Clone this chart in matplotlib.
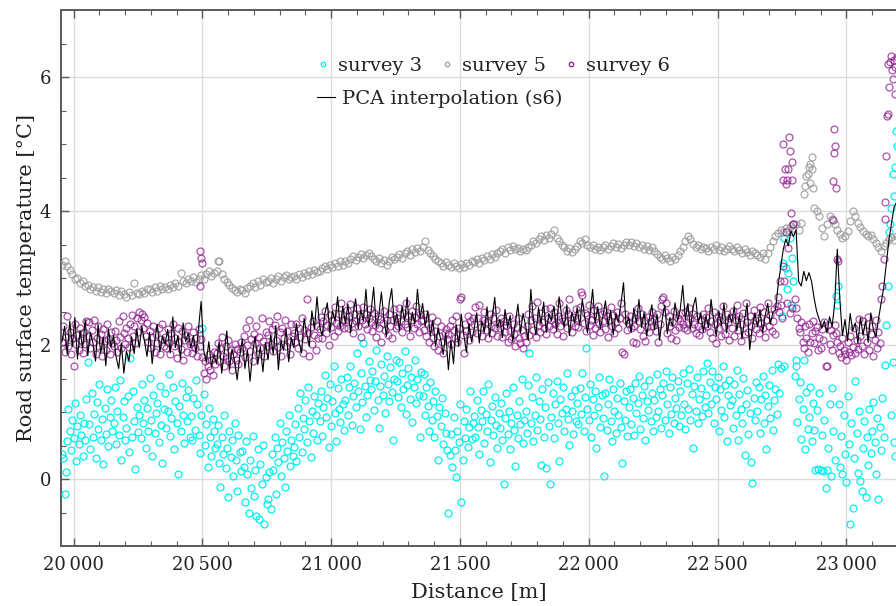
import numpy as np
import matplotlib
matplotlib.use("Agg")
import matplotlib.pyplot as plt
from matplotlib.ticker import MultipleLocator, FuncFormatter
from matplotlib.lines import Line2D

# ---------------- data (temperatures in hundredths of a degree C) ----------------
# survey 3: one reading every 5 m starting at 19955 m
S3_START, S3_STEP = 19955, 5
survey3_c = [
    38, 31, -22, 11, 56, 104, 72, 43, 88, 61, 113, 27, 79, 52, 95, 66, 35, 84, 58, 120,
    174, 82, 45, 128, 63, 97, 31, 115, 74, 142, 58, 89, 22, 106, 67, 135, 49, 93, 118, 71,
    84, 137, 52, 101, 66, 148, 29, 92, 117, 58, 76, 124, 41, 181, 63, 132, 87, 15, 108, 70,
    95, 61, 142, 83, 118, 47, 106, 72, 151, 88, 34, 126, 69, 98, 113, 55, 139, 81, 24, 104,
    128, 76, 102, 156, 64, 91, 138, 45, 117, 83, 8, 109, 71, 144, 96, 53, 122, 87, 133, 62,
    94, 58, 121, 73, 148, 112, 66, 39, 95, 226, 127, 51, 82, 18, 106, 63, 35, 89, 71, 47,
    52, 81, 24, -12, 63, 38, 95, 17, 46, -27, 71, 33, 58, 5, 84, 29, -18, 66, 41, 12,
    42, 18, -35, 57, 8, -50, 29, -13, 64, -25, 14, -55, 45, -60, 22, -8, 51, -67, 3, -38,
    -30, 11, -45, 38, 14, 62, -22, 47, 25, 83, 4, 55, 31, -12, 71, 42, 96, 19, 58, 35,
    48, 82, 27, 106, 63, 129, 41, 91, 74, 118, 55, 137, 86, 33, 102, 69, 124, 95, 58, 113,
    87, 132, 64, 108, 155, 93, 121, 48, 142, 79, 116, 168, 98, 57, 136, 104, 85, 149, 112, 73,
    118, 152, 96, 137, 169, 81, 124, 143, 107, 188, 131, 74, 158, 115, 203, 139, 92, 126, 176, 148,
    134, 161, 103, 147, 192, 118, 76, 139, 171, 125, 154, 98, 183, 142, 116, 167, 130, 58, 149, 177,
    146, 122, 175, 108, 158, 134, 191, 97, 141, 166, 119, 152, 85, 137, 178, 113, 149, 126, 62, 159,
    124, 157, 96, 138, 109, 71, 145, 88, 116, 63, 132, 94, 28, 107, 79, 121, 52, 98, 68, 43,
    -50, 36, 67, 18, 92, 44, 3, 71, 55, 112, -35, 29, 86, 61, 104, 48, 77, 132, 59, 83,
    94, 62, 118, 77, 38, 103, 86, 131, 54, 97, 71, 142, 25, 88, 109, 66, 122, 81, 47, 99,
    76, 113, 58, -8, 91, 128, 67, 102, 45, 84, 138, 73, 19, 96, 61, 117, 82, 149, 54, 88,
    102, 68, 141, 188, 84, 123, 57, 96, 152, 73, 117, 89, 21, 134, 62, 108, 17, 145, 79, -7,
    93, 128, 61, 112, 146, 84, 27, 119, 98, 137, 72, 105, 158, 89, 51, 124, 101, 67, 133, 86,
    114, 82, 136, 97, 158, 71, 123, 196, 104, 88, 142, 63, 119, 95, 131, 47, 108, 152, 77, 126,
    91, 5, 128, 73, 112, 149, 86, 57, 134, 102, 69, 121, 95, 143, 78, 24, 116, 88, 131, 64,
    107, 135, 82, 121, 66, 144, 98, 113, 154, 75, 126, 91, 139, 58, 117, 103, 148, 86, 129, 72,
    118, 92, 157, 101, 134, 76, 125, 143, 88, 161, 112, 69, 138, 97, 152, 84, 121, 106, 146, 79,
    131, 96, 158, 112, 74, 143, 105, 164, 88, 127, 47, 139, 101, 152, 83, 119, 136, 94, 161, 108,
    126, 173, 98, 145, 112, 161, 84, 137, 119, 152, 71, 134, 103, 168, 92, 141, 57, 125, 148, 110,
    118, 76, 142, 95, 163, 58, 127, 104, 84, 151, 36, 112, 133, 67, 98, 25, -6, 121, 88, 145,
    102, 137, 68, 119, 154, 83, 126, 45, 109, 141, 91, 162, 73, 118, 134, 97, 171, 128, 165, 243,
    323, 168, 315, 283, 307, 360, 260, 330, 295, 153, 168, 85, 120, 145, 60, 105, 178, 45, 130, 75,
    92, 138, 57, 114, 73, 14, 103, 15, 128, 13, 66, 12, 88, -13, 14, 47, 112, 5, 136, 71,
    28, 273, 260, 112, 18, 64, 7, 95, 38, -5, 124, 52, -67, 83, -44, 31, 146, 69, 9, 102,
    -3, -18, 47, 86, -27, 63, 21, 104, 39, 72, 115, 55, 8, 91, -30, 78, 44, 121, 62, 170,
    230, 288, 368, 380, 405, 455, 422, 465, 497,
]
survey3_extra_x = [22967, 23175, 23185, 23190, 23180, 23193, 22805, 22760]
survey3_extra_c = [288, 95, 55, 35, 175, 520, 178, 360]

# survey 5: one reading every 10 m starting at 19955 m
S5_START, S5_STEP = 19955, 10
survey5_c = [
    320, 326, 318, 312, 306, 298, 300, 292, 295, 288,
    290, 284, 287, 281, 286, 279, 283, 277, 284, 280,
    278, 282, 274, 280, 276, 271, 279, 275, 293, 277,
    276, 281, 278, 284, 283, 279, 286, 281, 288, 284,
    287, 283, 290, 286, 293, 288, 307, 295, 292, 298,
    296, 301, 294, 299, 304, 298, 306, 311, 303, 308,
    310, 325, 306, 298, 294, 289, 285, 282, 279, 284,
    282, 278, 285, 288, 292, 286, 295, 290, 298, 294,
    296, 300, 293, 298, 303, 296, 301, 305, 298, 302,
    303, 299, 306, 301, 308, 304, 310, 306, 312, 309,
    311, 315, 318, 313, 320, 316, 322, 318, 325, 320,
    326, 322, 329, 333, 327, 331, 336, 330, 334, 338,
    333, 329, 325, 330, 322, 327, 320, 326, 331, 328,
    332, 336, 330, 338, 341, 335, 343, 339, 345, 341,
    346, 355, 342, 338, 333, 329, 326, 322, 318, 324,
    320, 316, 322, 318, 315, 321, 317, 323, 319, 325,
    324, 328, 322, 330, 327, 333, 329, 336, 332, 338,
    340, 344, 338, 346, 342, 348, 343, 345, 340, 344,
    342, 346, 350, 355, 352, 358, 362, 357, 364, 360,
    366, 372, 360, 355, 350, 346, 341, 345, 339, 343,
    348, 355, 352, 358, 350, 346, 349, 344, 347, 342,
    346, 350, 344, 348, 352, 347, 351, 345, 349, 353,
    350, 354, 348, 352, 346, 350, 344, 348, 342, 346,
    340, 336, 332, 328, 334, 330, 326, 332, 328, 335,
    340, 347, 355, 362, 358, 351, 346, 349, 344, 347,
    345, 341, 347, 343, 349, 342, 346, 340, 344, 348,
    344, 340, 346, 342, 338, 343, 339, 335, 341, 337,
    335, 331, 337, 329, 338, 346, 355, 362, 367, 371,
    368, 375, 372, 378, 374, 380, 372, 382, 425, 452,
    466, 480, 405, 400, 392, 375, 363, 380, 393, 388,
    380, 372, 365, 360, 362, 370, 385, 400, 392, 382,
    376, 370, 366, 362, 364, 358, 352, 347, 341, 348,
    352, 358, 361, 357, 363,
]
survey5_extra_x = [22840, 22850, 22860, 22868, 22872, 22858, 20561]
survey5_extra_c = [438, 455, 470, 462, 434, 442, 325]

# survey 6: one reading every 5 m starting at 19955 m
S6_START, S6_STEP = 19955, 5
survey6_c = [
    205, 228, 190, 212, 243, 198, 220, 186, 210, 168, 232, 201, 215, 193, 226, 208, 188, 219, 202, 236,
    214, 235, 196, 222, 205, 238, 187, 211, 229, 199, 217, 183, 224, 206, 193, 231, 209, 186, 220, 203,
    198, 221, 207, 190, 236, 212, 195, 243, 218, 202, 225, 210, 197, 232, 245, 214, 228, 203, 240, 219,
    250, 238, 247, 226, 242, 214, 233, 205, 221, 196, 212, 229, 190, 217, 203, 225, 186, 209, 231, 198,
    212, 195, 224, 203, 187, 218, 232, 199, 210, 181, 226, 205, 194, 221, 178, 208, 215, 190, 228, 202,
    205, 188, 219, 196, 211, 183, 224, 198, 209, 182, 158, 176, 150, 169, 186, 162, 178, 155, 190, 171,
    188, 203, 176, 195, 212, 184, 169, 198, 181, 207, 176, 192, 163, 186, 201, 178, 194, 171, 189, 205,
    196, 214, 182, 225, 200, 238, 191, 209, 176, 217, 203, 229, 187, 212, 195, 241, 206, 184, 220, 198,
    215, 236, 202, 224, 191, 230, 208, 244, 197, 219, 183, 226, 210, 238, 199, 221, 205, 187, 232, 214,
    218, 204, 231, 196, 226, 212, 240, 188, 223, 209, 268, 218, 183, 227, 201, 236, 215, 192, 229, 210,
    224, 242, 210, 236, 251, 218, 230, 200, 245, 227, 238, 214, 256, 233, 221, 247, 229, 262, 238, 225,
    238, 252, 226, 244, 261, 233, 218, 247, 236, 255, 229, 243, 212, 238, 257, 231, 246, 224, 240, 253,
    235, 221, 248, 230, 212, 244, 226, 239, 205, 233, 251, 222, 238, 215, 246, 229, 210, 237, 254, 226,
    240, 228, 255, 236, 219, 248, 232, 262, 227, 244, 214, 238, 251, 225, 242, 258, 231, 219, 246, 236,
    238, 223, 247, 214, 231, 205, 226, 242, 210, 198, 221, 236, 193, 214, 229, 205, 188, 218, 224, 209,
    216, 229, 201, 238, 222, 210, 243, 205, 226, 268, 272, 215, 188, 232, 221, 244, 208, 236, 219, 241,
    232, 256, 218, 241, 259, 227, 213, 238, 249, 222, 235, 211, 247, 229, 218, 240, 226, 252, 214, 233,
    225, 241, 212, 236, 219, 230, 205, 244, 221, 209, 232, 216, 198, 227, 240, 211, 203, 222, 196, 214,
    204, 228, 246, 215, 237, 258, 223, 241, 212, 264, 230, 219, 248, 235, 226, 253, 217, 240, 229, 255,
    238, 224, 250, 231, 216, 244, 262, 228, 241, 213, 236, 252, 225, 247, 268, 233, 219, 242, 229, 254,
    240, 227, 256, 279, 274, 233, 248, 221, 245, 260, 230, 238, 215, 252, 226, 243, 258, 232, 219, 246,
    236, 251, 224, 243, 212, 238, 257, 229, 245, 218, 234, 249, 226, 241, 263, 190, 186, 246, 237, 222,
    233, 244, 226, 205, 229, 241, 203, 255, 236, 224, 247, 213, 238, 206, 227, 242, 219, 236, 250, 228,
    239, 221, 246, 205, 232, 258, 268, 272, 249, 263, 218, 243, 229, 210, 235, 251, 222, 208, 240, 227,
    236, 248, 231, 226, 249, 223, 234, 255, 241, 226, 247, 232, 218, 244, 229, 215, 238, 224, 246, 231,
    242, 228, 255, 219, 236, 210, 249, 231, 203, 244, 225, 238, 213, 258, 229, 216, 247, 234, 207, 240,
    226, 251, 214, 237, 259, 222, 243, 206, 231, 248, 217, 262, 235, 219, 244, 228, 211, 252, 237, 224,
    241, 218, 256, 233, 226, 249, 212, 238, 262, 229, 245, 221, 236, 254, 217, 258, 272, 250, 260, 240,
    318, 295, 368, 262, 345, 248, 397, 255, 380, 268, 255, 240, 225, 220, 235, 205, 195, 228, 210, 190,
    232, 205, 218, 236, 203, 221, 227, 192, 210, 196, 224, 208, 235, 169, 168, 230, 201, 222, 192, 215,
    230, 218, 205, 188, 199, 182, 210, 193, 186, 178, 204, 190, 213, 185, 197, 226, 188, 207, 194, 239,
    214, 198, 236, 187, 221, 205, 242, 193, 216, 229, 184, 207, 238, 195, 219, 203, 268, 288, 328, 388,
    482, 545, 585, 622, 632, 597, 625, 574, 630,
]
survey6_extra_x = [20490, 20494, 20497, 20492,
                   22755, 22778, 22781, 22788, 22762, 22775, 22755, 22768, 22788, 22765, 22743, 22794,
                   22953, 22956, 22952, 22950, 22959, 22950, 22963, 22967,
                   23150, 23158, 23163, 23178, 23188]
survey6_extra_c = [340, 330, 323, 288,
                   500, 510, 490, 473, 462, 462, 447, 447, 447, 440, 295, 380,
                   522, 497, 487, 445, 435, 387, 328, 325,
                   413, 542, 620, 610, 615]

# PCA interpolation of survey 6: every 10 m starting at 19955 m
PCA_START, PCA_STEP = 19955, 10
pca_c = [
    205, 228, 186, 236, 198, 241, 179, 222, 195, 238,
    184, 219, 203, 176, 231, 188, 212, 169, 224, 197,
    214, 182, 165, 203, 158, 191, 176, 212, 187, 224,
    196, 228, 205, 183, 219, 172, 207, 231, 190, 213,
    201, 223, 188, 242, 196, 214, 179, 233, 205, 218,
    196, 214, 188, 225, 265, 192, 174, 205, 168, 186,
    172, 205, 158, 189, 221, 163, 194, 176, 148, 183,
    209, 165, 192, 146, 188, 213, 171, 198, 160, 204,
    178, 215, 186, 229, 163, 207, 192, 224, 175, 211,
    196, 232, 205, 188, 240, 216, 198, 251, 224, 272,
    228, 214, 246, 263, 219, 251, 236, 272, 225, 258,
    232, 261, 218, 247, 269, 224, 252, 236, 283, 229,
    251, 286, 226, 244, 279, 238, 213, 262, 284, 231,
    247, 222, 258, 236, 271, 219, 249, 232, 283, 240,
    262, 228, 251, 214, 237, 198, 225, 209, 186, 218,
    163, 207, 172, 231, 198, 246, 215, 189, 232, 205,
    224, 248, 203, 236, 219, 257, 212, 241, 271, 226,
    238, 211, 253, 226, 244, 205, 232, 261, 218, 247,
    229, 207, 283, 238, 215, 256, 231, 264, 219, 247,
    236, 258, 221, 272, 243, 227, 260, 214, 249, 233,
    255, 229, 268, 241, 218, 246, 283, 232, 257, 224,
    243, 266, 228, 252, 215, 247, 234, 262, 293, 228,
    241, 219, 255, 232, 268, 226, 249, 214, 238, 260,
    223, 246, 207, 238, 259, 217, 241, 228, 263, 236,
    252, 289, 238, 262, 224, 256, 271, 233, 248, 219,
    244, 226, 268, 237, 213, 251, 229, 262, 218, 246,
    234, 257, 221, 245, 209, 238, 262, 193, 226, 248,
    227, 253, 218, 244, 262, 231, 249, 252, 288, 315,
    342, 358, 348, 370, 362, 372, 295, 288, 310, 296,
    308, 295, 270, 250, 238, 225, 236, 218, 242, 228,
    262, 343, 268, 214, 238, 206, 247, 221, 233, 202,
    241, 215, 236, 204, 248, 223, 212, 239, 262, 285,
    320, 355, 380, 405, 413,
]

series_labels = ["survey 3", "survey 5", "survey 6", "PCA interpolation (s6)"]
x_label = "Distance [m]"
y_label = "Road surface temperature [°C]"

# ---------------- build arrays ----------------
def regular(start, step, vals):
    v = np.asarray(vals, dtype=float) / 100.0
    return start + step * np.arange(len(v)), v

x3, y3 = regular(S3_START, S3_STEP, survey3_c)
x5, y5 = regular(S5_START, S5_STEP, survey5_c)
x6, y6 = regular(S6_START, S6_STEP, survey6_c)
xp, yp = regular(PCA_START, PCA_STEP, pca_c)
x3 = np.concatenate([x3, survey3_extra_x]); y3 = np.concatenate([y3, np.array(survey3_extra_c) / 100.0])
x5 = np.concatenate([x5, survey5_extra_x]); y5 = np.concatenate([y5, np.array(survey5_extra_c) / 100.0])
x6 = np.concatenate([x6, survey6_extra_x]); y6 = np.concatenate([y6, np.array(survey6_extra_c) / 100.0])

# ---------------- style ----------------
plt.rcParams['font.family'] = ['DejaVu Serif']
C3 = '#00f0f0'
C5 = '#a0a0a0'
C6 = '#8e1a8e'
CP = '#000000'
TXT = '#222222'
SPINE = '#5a5a5a'

fig = plt.figure(figsize=(8.96, 6.06), dpi=100)
ax = fig.add_axes([61 / 896, 60 / 606, 835 / 896, 536 / 606])

mk = dict(marker='o', ls='none', mfc='none', ms=5.0, mew=0.9)
ax.plot(x3, y3, mec=C3, zorder=3, **mk)
ax.plot(x5, y5, mec=C5, alpha=0.9, zorder=3, **mk)
ax.plot(x6, y6, mec=C6, alpha=0.75, zorder=4, **mk)
ax.plot(xp, yp, color=CP, lw=0.8, zorder=5)

ax.set_xlim(19951, 23193)
ax.set_ylim(-1, 7)
ax.xaxis.set_major_locator(MultipleLocator(500))
ax.xaxis.set_minor_locator(MultipleLocator(100))
ax.yaxis.set_major_locator(MultipleLocator(2))
ax.yaxis.set_minor_locator(MultipleLocator(0.5))
ax.xaxis.set_major_formatter(FuncFormatter(lambda v, p: f"{int(round(v)):,}".replace(",", "\u2009")))
ax.yaxis.set_major_formatter(FuncFormatter(lambda v, p: f"{v:g}"))

ax.grid(True, which='major', color='#dcdcdc', lw=1.0)
ax.set_axisbelow(True)

for side in ['left', 'bottom', 'top']:
    ax.spines[side].set_color(SPINE)
    ax.spines[side].set_linewidth(1.4)
ax.spines['right'].set_visible(False)

ax.tick_params(which='both', direction='in', top=True, right=False, color=SPINE,
               labelcolor=TXT, labelsize=13)
ax.tick_params(which='major', length=6, width=1.0, pad=7)
ax.tick_params(which='minor', length=3.5, width=0.8)

ax.set_xlabel(x_label, fontsize=15, color=TXT, labelpad=7)
ax.set_ylabel(y_label, fontsize=15, color=TXT, labelpad=3)

lh = [Line2D([], [], marker='o', ls='none', mfc='none', mec=c, ms=3.2, mew=0.9)
      for c in (C3, C5, C6)]
leg1 = ax.legend(lh, series_labels[:3], ncol=3, loc='center left',
                 bbox_to_anchor=(0.305, 0.8955), frameon=False, fontsize=14,
                 handlelength=0.8, handletextpad=0.35, columnspacing=0.9,
                 borderpad=0, borderaxespad=0, labelcolor=TXT)
ax.add_artist(leg1)
ph = [Line2D([], [], color=CP, lw=0.8)]
ax.legend(ph, series_labels[3:], loc='center left', bbox_to_anchor=(0.3066, 0.834),
          frameon=False, fontsize=14, handlelength=0.95, handletextpad=0.36,
          borderpad=0, borderaxespad=0, labelcolor=TXT)

fig.savefig('out.png', dpi=100)
